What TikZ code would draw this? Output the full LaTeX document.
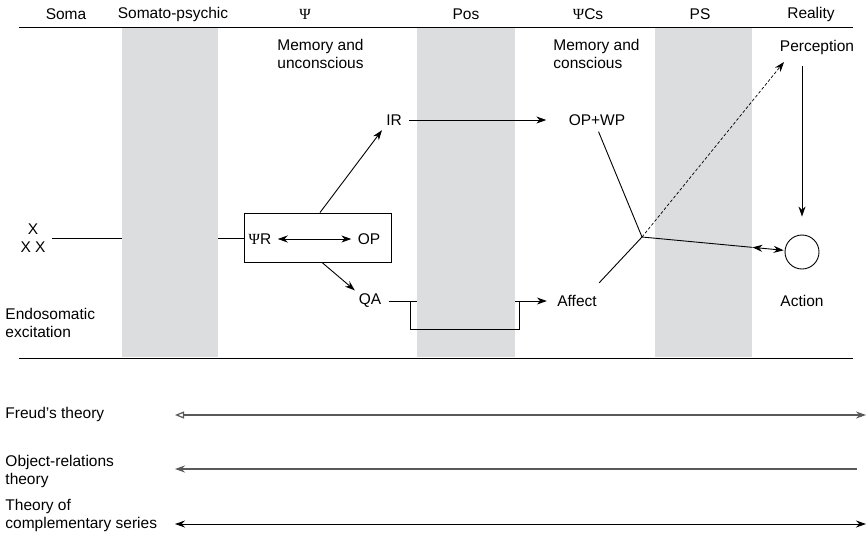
\documentclass[tikz,border=0pt]{standalone}
\usepackage{fontspec}
\setmainfont{Liberation Sans}
\newfontfamily\psifont{Liberation Serif}
\newcommand{\psisym}{{\psifont Ψ}}
\usetikzlibrary{arrows.meta,calc}
\definecolor{bandgrey}{RGB}{220,221,223}
\tikzset{
  lbl/.style={inner sep=2pt,font=\fontsize{15.5}{18}\selectfont},
  tip/.style={-{Stealth[length=10pt,width=7pt]}},
  tips/.style={{Stealth[length=10pt,width=7pt]}-{Stealth[length=10pt,width=7pt]}},
  band/.style={fill=bandgrey,draw=none},
  span/.style={line width=1.2pt,draw=black!65},
}

\begin{document}
\begin{tikzpicture}[x=1pt,y=-1pt,line width=0.9pt,every node/.style={lbl}]
  \useasboundingbox (0,0) rectangle (868,542);

  % column heads
  \node (soma)  at ( 66,14) {Soma};
  \node (somps) at (173,14) {Somato-psychic};
  \node (psi)   at (305,14) {\psisym};
  \node (pos)   at (466,14) {Pos};
  \node (psics) at (588,14) {\psisym Cs};
  \node (ps)    at (700,14) {PS};
  \node (real)  at (811,14) {Reality};

  % nodes
  \node [align=center,inner sep=1pt] (xx) at (33,238) {X\\X X};
  \node [draw,rectangle,minimum width=147pt,minimum height=49pt] (box) at (317.5,237.5) {};
  \node (psir) at (260,239) {\psisym R};
  \node (op)   at (369,239) {OP};
  \node (ir)   at (394,120) {IR};
  \node (qa)   at (370,301) {QA};
  \node (opwp) at (597,120) {OP+WP};
  \node (affect) at (577,301) {Affect};
  \node (perc) at (817,47) {Perception};
  \node [draw,circle,minimum size=34pt,inner sep=0pt] (action) at (802,252) {};
  \node (actlbl) at (802,301) {Action};
  \coordinate (j) at (642,237);
  \coordinate (ptip) at (784,62);
  \coordinate (acttail) at ($(j)!0.69!(action)$);

  % lines that the bands cover
  \draw [shorten <=5pt] (xx) -- (box.west |- xx);
  \draw [tip,shorten <=5pt,shorten >=8pt] (qa) -- (affect);

  \fill [band] (122,28) rectangle (218,357);
  \fill [band] (417,28) rectangle (515,357);
  \fill [band] (655,28) rectangle (752,357);

  \draw (19,27) -- (853,27);
  \draw (19,358) -- (853,358);

  \node [align=left,anchor=north west] (memu) at (275,37) {Memory and\\unconscious};
  \node [align=left,anchor=north west] (memc) at (551,37) {Memory and\\conscious};
  \node [align=left,anchor=north west] (endo) at (3,306) {Endosomatic\\excitation};

  \draw [tips,shorten <=4pt,shorten >=4pt] (psir) -- (op);
  \draw [tip,shorten >=3pt] ([xshift=2.5pt]box.north) -- (ir.south west);
  \draw [tip,shorten >=2pt] ([xshift=4.5pt]box.south) -- (qa.north west);
  \draw [tip,shorten <=5pt,shorten >=20pt] (ir) -- (opwp);

  \coordinate (bl) at (410,301);
  \coordinate (br) at (519,301);
  \draw (bl) -- ++(0,28) -| (br);

  \draw [shorten <=4pt] (opwp.south) -- (j);
  \draw ([yshift=10pt]affect.north east) -- (j);
  \draw [tip,dashed,dash pattern=on 3pt off 2pt,line width=0.7pt] (j) -- (ptip);
  \draw [tip,shorten <=9pt,shorten >=18pt] (perc.south -| action) -- (action);
  \draw (j) -- (acttail);
  \draw [tips,shorten >=1pt] (acttail) -- (action);

  % theories
  \node [anchor=west] (freud) at (3,414) {Freud’s theory};
  \node [anchor=north west,align=left] (objrel) at (3,453) {Object-relations\\theory};
  \node [anchor=north west,align=left] (compl) at (3,497) {Theory of\\complementary series};
  \coordinate (fl) at (175,415);  \coordinate (fr) at (866,415);
  \coordinate (ol) at (175,469);  \coordinate (or) at (857,469);
  \coordinate (cl) at (175,524);  \coordinate (cr) at (866,524);
  \draw [span,{Triangle[open,length=9pt,width=7pt]}-{Stealth[length=10pt,width=7pt]}] (fl) -- (fr);
  \draw [span,{Stealth[length=10pt,width=7pt]}-] (ol) -- (or);
  \draw [tips] (cl) -- (cr);
\end{tikzpicture}
\end{document}
